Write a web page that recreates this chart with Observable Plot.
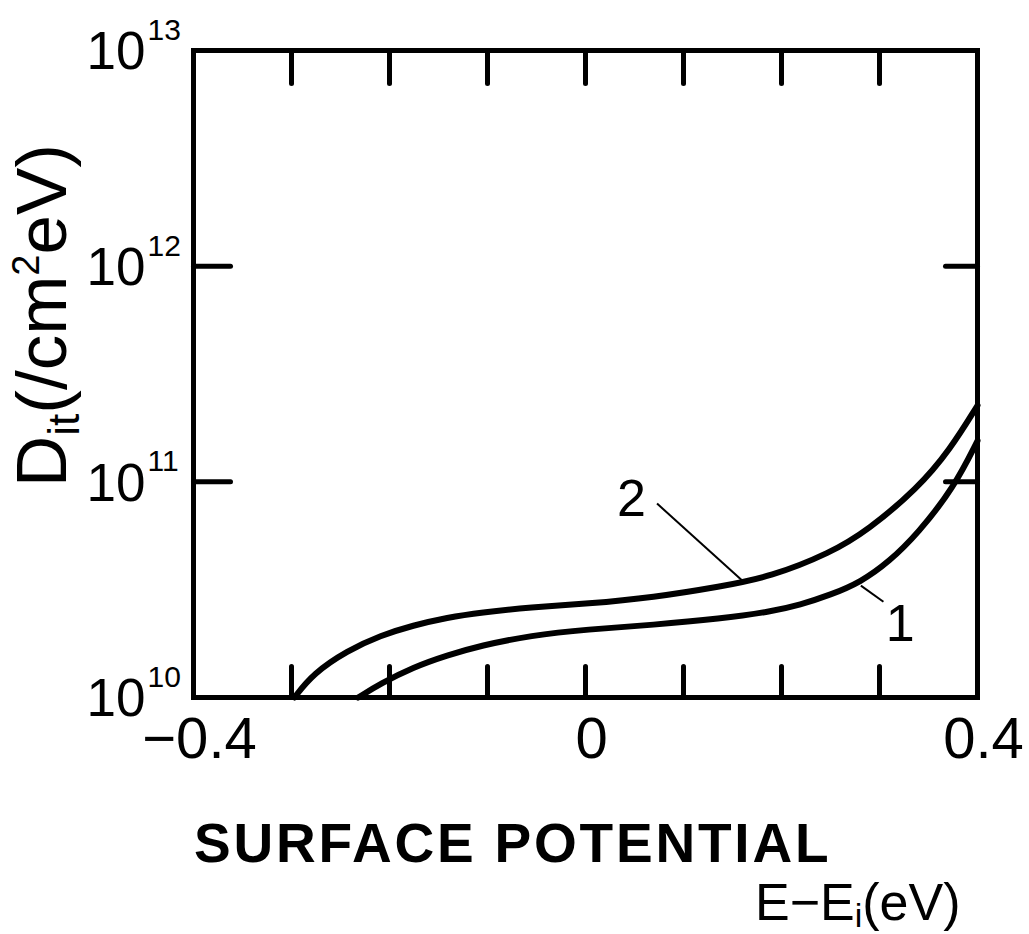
<!DOCTYPE html>
<html>
<head>
<meta charset="utf-8">
<script src="https://cdn.jsdelivr.net/npm/d3@7"></script>
<script src="https://cdn.jsdelivr.net/npm/@observablehq/plot@0.6"></script>
<style>
  html, body { margin: 0; padding: 0; background: #fff; }
  svg { display: block; }
</style>
</head>
<body>
<div id="chart"></div>
<script>
// Curve 2 (upper)
const energy2 = [-0.297, -0.278, -0.243, -0.209, -0.176, -0.141, -0.107, -0.056, 0.002, 0.069, 0.138, 0.189, 0.25, 0.288, 0.339, 0.372, 0.4];
const dit2    = [1.00e10, 1.29e10, 1.65e10, 1.94e10, 2.16e10, 2.35e10, 2.48e10, 2.62e10, 2.72e10, 2.91e10, 3.27e10, 3.63e10, 4.68e10, 5.96e10, 9.33e10, 1.41e11, 2.26e11];
// Curve 1 (lower)
const energy1 = [-0.232, -0.209, -0.176, -0.141, -0.107, -0.056, 0.002, 0.069, 0.138, 0.189, 0.219, 0.25, 0.281, 0.31, 0.339, 0.376, 0.4];
const dit1    = [1.00e10, 1.16e10, 1.38e10, 1.57e10, 1.74e10, 1.94e10, 2.07e10, 2.17e10, 2.32e10, 2.50e10, 2.69e10, 2.99e10, 3.43e10, 4.27e10, 5.75e10, 9.42e10, 1.55e11];

const xTicks = [-0.3, -0.2, -0.1, 0, 0.1, 0.2, 0.3];
const xTickLabels = [-0.4, 0, 0.4];
const yTicks = [1e11, 1e12];
const yLabelValues = [1e10, 1e11, 1e12, 1e13];
const yLabelExponents = ["10", "11", "12", "13"];

// curve labels and leader lines
const curveLabels = [
  {text: "2", E: 0.047, D: 8.28e10},
  {text: "1", E: 0.321, D: 2.18e10}
];
const leaders = [
  {E1: 0.073, D1: 7.93e10, E2: 0.161, D2: 3.45e10},
  {E1: 0.281, D1: 3.30e10, E2: 0.304, D2: 2.78e10}
];

const curve1 = energy1.map((e, i) => ({E: e, D: dit1[i]}));
const curve2 = energy2.map((e, i) => ({E: e, D: dit2[i]}));

const lineShape = {draw(context, l) { context.moveTo(0, 0); context.lineTo(0, -l); }};
const font = "Liberation Sans, Arial, sans-serif";

const chart = Plot.plot({
  width: 1029,
  height: 934,
  marginLeft: 193,
  marginRight: 52,
  marginTop: 50,
  marginBottom: 237,
  style: {fontFamily: font, background: "#fff", color: "#000"},
  x: {domain: [-0.4, 0.4], axis: null},
  y: {type: "log", domain: [1e10, 1e13], axis: null},
  marks: [
    // inward ticks
    Plot.vector(xTicks, {x: d => d, frameAnchor: "bottom", rotate: 0, length: 31, anchor: "start", shape: lineShape, stroke: "#000", strokeWidth: 5}),
    Plot.vector(xTicks, {x: d => d, frameAnchor: "top", rotate: 180, length: 33, anchor: "start", shape: lineShape, stroke: "#000", strokeWidth: 5}),
    Plot.vector(yTicks, {y: d => d, frameAnchor: "left", rotate: 90, length: 37, anchor: "start", shape: lineShape, stroke: "#000", strokeWidth: 5}),
    Plot.vector(yTicks, {y: d => d, frameAnchor: "right", rotate: -90, length: 32, anchor: "start", shape: lineShape, stroke: "#000", strokeWidth: 5}),
    Plot.frame({stroke: "#000", strokeWidth: 5}),
    // curves
    Plot.line(curve1, {x: "E", y: "D", stroke: "#000", strokeWidth: 6, curve: "basis"}),
    Plot.line(curve2, {x: "E", y: "D", stroke: "#000", strokeWidth: 6, curve: "basis"}),
    // leaders
    Plot.link(leaders, {x1: "E1", y1: "D1", x2: "E2", y2: "D2", stroke: "#000", strokeWidth: 2}),
    Plot.text(curveLabels, {x: "E", y: "D", text: "text", fontSize: 52, lineAnchor: "middle", fill: "#000"}),
    // x tick labels
    Plot.text(xTickLabels, {x: d => d, frameAnchor: "bottom", dy: 60, dx: 6, lineAnchor: "bottom", textAnchor: "middle",
      text: d => d === 0 ? "0" : (d < 0 ? "\u2212" + Math.abs(d).toFixed(1) : d.toFixed(1)), fontSize: 58, fill: "#000"}),
    // y tick labels: "10" + exponent
    Plot.text(yLabelValues, {y: d => d, frameAnchor: "left", dx: -48, dy: 2, textAnchor: "end", lineAnchor: "middle", text: () => "10", fontSize: 53, fill: "#000"}),
    Plot.text(yLabelValues, {y: d => d, frameAnchor: "left", dx: -46, dy: -20, textAnchor: "start", lineAnchor: "middle", text: (d, i) => yLabelExponents[i], fontSize: 30, fill: "#000"})
  ]
});

const svg = d3.select(chart);

// Y axis title
const yt = svg.append("text")
  .attr("transform", "translate(66,487) rotate(-90)")
  .attr("text-anchor", "start")
  .attr("font-family", font)
  .attr("font-size", 71)
  .attr("fill", "#000");
yt.append("tspan").text("D");
yt.append("tspan").attr("font-size", 44).attr("dy", 13).text("it");
yt.append("tspan").attr("dy", -13).text("(/cm");
yt.append("tspan").attr("font-size", 38).attr("dy", -27).text("2");
yt.append("tspan").attr("dy", 27).text("eV)");

// X axis title
svg.append("text")
  .attr("x", 194).attr("y", 862)
  .attr("text-anchor", "start")
  .attr("font-family", font)
  .attr("font-size", 55)
  .attr("font-weight", "bold")
  .attr("letter-spacing", 2.8)
  .attr("fill", "#000")
  .text("SURFACE POTENTIAL");

const xt = svg.append("text")
  .attr("x", 755).attr("y", 920)
  .attr("text-anchor", "start")
  .attr("font-family", font)
  .attr("font-size", 52)
  .attr("fill", "#000");
xt.append("tspan").text("E\u2212E");
xt.append("tspan").attr("font-size", 34).attr("dy", 7).text("i");
xt.append("tspan").attr("dy", -7).text("(eV)");

document.getElementById("chart").appendChild(chart);
</script>
</body>
</html>
